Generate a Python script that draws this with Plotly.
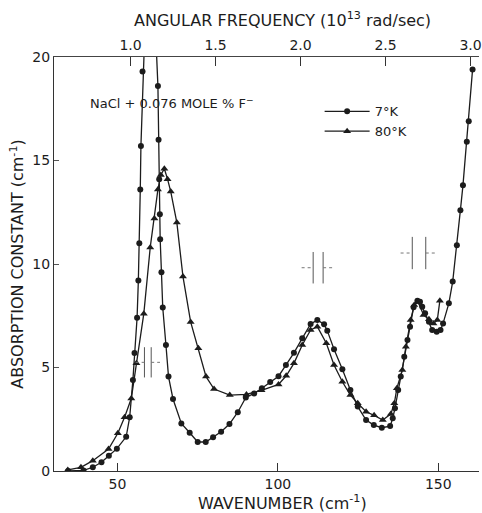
import plotly.graph_objects as go

# ---- data ----
wn_7k = [34.6, 39.4, 42.3, 45.0, 47.3, 49.8, 52.7, 53.8, 54.8, 55.3, 56.1, 56.5, 56.8, 57.1, 57.3, 57.8,
         60.0,
         62.6, 62.8, 63.0, 63.2, 63.3, 63.7, 64.1, 65.1, 65.9, 67.3, 69.9, 72.5, 75.0, 77.5, 79.8,
         82.3, 84.9, 87.5, 90.0, 92.6, 95.0, 97.6, 100.2, 102.5, 105.0, 107.6, 110.2, 112.3, 114.4,
         115.4, 117.5, 120.1, 122.6, 124.9, 127.5, 129.9, 132.4, 135.0, 135.8, 136.5, 137.5, 138.3,
         139.4, 140.4, 141.2, 142.3, 143.5, 144.3, 145.0, 145.9, 147.1, 148.1, 149.5, 150.7, 151.5,
         153.3, 154.5, 155.8, 156.9, 157.7, 158.9, 159.5, 160.7]
abs_7k = [0.0, 0.03, 0.18, 0.42, 0.74, 1.08, 1.65, 2.6, 4.4, 5.7, 7.4, 9.2, 11.0, 13.6, 15.7, 19.3,
          28.0,
          18.6, 16.0, 14.1, 12.4, 11.2, 9.6, 7.9, 6.09, 4.56, 3.48, 2.30, 1.85, 1.40, 1.40, 1.63,
          1.90, 2.27, 2.84, 3.55, 3.75, 4.0, 4.3, 4.58, 5.12, 5.71, 6.41, 7.10, 7.29, 7.09,
          6.78, 5.88, 4.91, 3.91, 3.11, 2.46, 2.22, 2.09, 2.17, 2.55, 3.03, 3.91, 4.56,
          5.52, 6.33, 6.97, 7.91, 8.23, 8.18, 7.94, 7.62, 7.21, 6.81, 6.73, 6.81, 7.13,
          8.1, 9.15, 10.9, 12.6, 13.8, 15.9, 16.9, 19.4]

wn_80k = [34.5, 38.6, 42.3, 47.2, 50.1, 52.2, 54.3, 55.9, 58.2, 60.2, 61.5, 62.6, 63.5, 64.6, 65.6,
          66.6, 68.5, 70.4, 72.8, 75.2, 77.6, 80.1, 85.0, 90.2, 94.9, 100.2, 102.6, 105.0, 107.6,
          110.2, 112.3, 115.1, 117.5, 120.1, 122.6, 124.9, 127.5, 130.0, 132.7, 135.2, 136.3, 137.1,
          138.8, 139.9, 141.4, 142.5, 143.7, 145.4, 147.1, 148.5, 149.7, 150.5]
abs_80k = [0.05, 0.18, 0.5, 1.06, 1.82, 2.6, 3.5, 5.2, 7.6, 10.8, 12.2, 13.6, 14.3, 14.6, 14.1,
           13.5, 12.0, 9.4, 7.2, 5.93, 4.56, 3.96, 3.67, 3.70, 3.9, 4.18, 4.6, 5.2, 6.09,
           6.81, 6.97, 6.17, 5.12, 4.31, 3.67, 3.27, 2.86, 2.69, 2.46, 2.75, 3.27, 4.0,
           4.88, 6.0, 7.29, 8.02, 8.18, 7.54, 7.33, 7.13, 7.29, 8.23]

series_names = ["7°K", "80°K"]
note_text = "NaCl + 0.076 MOLE % F<sup>−</sup>"
top_title = "ANGULAR FREQUENCY (10<sup>13</sup> rad/sec)"
bottom_title = "WAVENUMBER (cm<sup>-1</sup>)"
left_title = "ABSORPTION CONSTANT (cm<sup>-1</sup>)"

wn_range = [30.2, 162.7]
abs_range = [0, 20]
freq_range = [0.550, 3.050]
wn_ticks = [50, 100, 150]
abs_ticks = [0, 5, 10, 15, 20]
freq_ticks = [1.0, 1.5, 2.0, 2.5, 3.0]
freq_labels = ["1.0", "1.5", "2.0", "2.5", "3.0"]

# spectral-resolution bars (centre wavenumber, centre absorption, half gap, half length, half height)
res_wn = [59.45, 112.55, 144.0]
res_abs = [5.25, 9.82, 10.53]
res_gap = [1.05, 1.55, 2.1]
res_len = [3.8, 5.15, 5.75]
res_h = [0.73, 0.76, 0.78]

FONT = "DejaVu Sans"
INK = "#1c1c1c"

fig = go.Figure()
fig.add_trace(go.Scatter(
    x=wn_7k, y=abs_7k, name=series_names[0], mode="lines+markers",
    line=dict(color=INK, width=1.3),
    marker=dict(symbol="circle", size=6, color=INK),
))
fig.add_trace(go.Scatter(
    x=wn_80k, y=abs_80k, name=series_names[1], mode="lines+markers",
    line=dict(color=INK, width=1.3),
    marker=dict(symbol="triangle-up", size=7, color=INK),
))
# carrier for the top (angular frequency) axis
fig.add_trace(go.Scatter(x=freq_ticks, y=[None] * len(freq_ticks), xaxis="x2",
                         mode="markers", showlegend=False, hoverinfo="skip"))

shapes = []
for c, a, g, L, h in zip(res_wn, res_abs, res_gap, res_len, res_h):
    for xv in (c - g, c + g):
        shapes.append(dict(type="line", xref="x", yref="y", x0=xv, x1=xv, y0=a - h, y1=a + h,
                           line=dict(color="#555", width=1)))
    shapes.append(dict(type="line", xref="x", yref="y", x0=c - L, x1=c - g, y0=a, y1=a,
                       line=dict(color="#777", width=1, dash="dot")))
    shapes.append(dict(type="line", xref="x", yref="y", x0=c + g, x1=c + L, y0=a, y1=a,
                       line=dict(color="#777", width=1, dash="dot")))

fig.update_layout(
    width=482, height=513,
    margin=dict(l=54, r=0, t=57, b=42),
    paper_bgcolor="white", plot_bgcolor="white",
    font=dict(family=FONT, size=14, color=INK),
    shapes=shapes,
    showlegend=True,
    legend=dict(x=0.625, y=0.905, xanchor="left", yanchor="top",
                bgcolor="rgba(0,0,0,0)", font=dict(size=13, family=FONT),
                tracegroupgap=0, itemwidth=45),
    xaxis=dict(range=wn_range, tickvals=wn_ticks, ticks="inside", ticklen=8, tickwidth=1,
               tickcolor="#333", showline=True, linecolor="#333", linewidth=1,
               showgrid=False, zeroline=False, tickfont=dict(size=14)),
    xaxis2=dict(range=freq_range, overlaying="x", side="top", tickvals=freq_ticks,
                ticktext=freq_labels, ticks="inside", ticklen=9, tickwidth=1, tickcolor="#333",
                showline=True, linecolor="#444", linewidth=1, showgrid=False, zeroline=False,
                tickfont=dict(size=14), ticklabeloverflow="allow"),
    yaxis=dict(range=abs_range, tickvals=abs_ticks, ticks="inside", ticklen=5, tickwidth=1,
               tickcolor="#555", showline=True, linecolor="#333", linewidth=1,
               showgrid=False, zeroline=False, tickfont=dict(size=14),
               title=dict(text=left_title, font=dict(size=16), standoff=4)),
    annotations=[
        dict(text=note_text, x=67.0, y=17.8, xref="x", yref="y", showarrow=False,
             font=dict(size=13, family=FONT, color=INK)),
        dict(text=top_title, x=0.537, y=1.09, xref="paper", yref="paper", showarrow=False,
             xanchor="center", yanchor="middle", font=dict(size=16, family=FONT, color=INK)),
        dict(text=bottom_title, x=0.537, y=-0.076, xref="paper", yref="paper", showarrow=False,
             xanchor="center", yanchor="middle", font=dict(size=16, family=FONT, color=INK)),
    ],
)

fig.write_html("out.html")
